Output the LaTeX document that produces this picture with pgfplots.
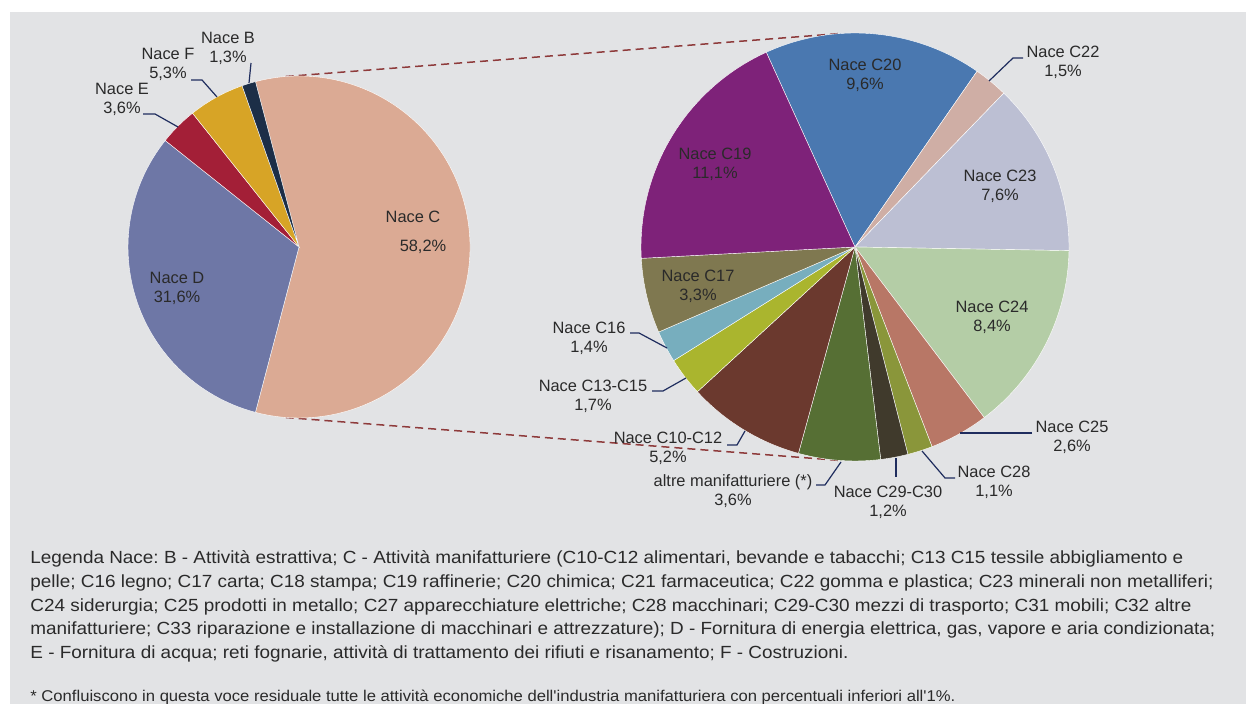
\documentclass[border=0pt]{standalone}
\usepackage{graphicx}
\usepackage{pgfplots}
\pgfplotsset{compat=1.18}
\usepackage{pgfplotstable}
\usepackage{fontspec}
\setmainfont{Liberation Sans}
\frenchspacing

\definecolor{bg}{HTML}{E2E3E5}
\definecolor{txt}{HTML}{2A2A2A}
\definecolor{lead}{HTML}{1F2D5E}
\definecolor{conn}{HTML}{8E3B3B}
% main pie
\definecolor{cC}{HTML}{DBAA94}
\definecolor{cD}{HTML}{6E77A6}
\definecolor{cE}{HTML}{A31F37}
\definecolor{cF}{HTML}{D7A426}
\definecolor{cB}{HTML}{1C2E47}
% secondary pie
\definecolor{c20}{HTML}{4A78B0}
\definecolor{c22}{HTML}{CFAEA5}
\definecolor{c23}{HTML}{BCBFD3}
\definecolor{c24}{HTML}{B4CDA6}
\definecolor{c25}{HTML}{B87766}
\definecolor{c28}{HTML}{8A963A}
\definecolor{c2930}{HTML}{403A2C}
\definecolor{caltre}{HTML}{566F34}
\definecolor{c1012}{HTML}{6B392E}
\definecolor{c1315}{HTML}{AAB52E}
\definecolor{c16}{HTML}{77AEBE}
\definecolor{c17}{HTML}{7F7850}
\definecolor{c19}{HTML}{7E2279}

% shares (%), clockwise from the start angle
\pgfplotstableread{
name value color
C 58.2 cC
D 31.6 cD
E 3.6 cE
F 5.3 cF
B 1.3 cB
}\leftpie
\pgfplotstableread{
name value color
C20 9.6 c20
C22 1.5 c22
C23 7.6 c23
C24 8.4 c24
C25 2.6 c25
C28 1.1 c28
C29-C30 1.2 c2930
altre 3.6 caltre
C10-C12 5.2 c1012
C13-C15 1.7 c1315
C16 1.4 c16
C17 3.3 c17
C19 11.1 c19
}\rightpie

% #1 table, #2 cx, #3 cy (axis units), #4 radius (pt), #5 start angle, #6 output macro
\newcommand\buildpie[6]{%
  \pgfplotstablegetrowsof{#1}%
  \pgfmathtruncatemacro\pielast{\pgfplotsretval-1}%
  \gdef\pietotal{0}%
  \foreach \i in {0,...,\pielast}{%
    \pgfplotstablegetelem{\i}{value}\of{#1}%
    \pgfmathsetmacro\tmp{\pietotal+\pgfplotsretval}%
    \xdef\pietotal{\tmp}%
  }%
  \xdef\pieangle{#5}%
  \gdef#6{}%
  \foreach \i in {0,...,\pielast}{%
    \pgfplotstablegetelem{\i}{value}\of{#1}\let\pieval\pgfplotsretval
    \pgfplotstablegetelem{\i}{color}\of{#1}\let\piecol\pgfplotsretval
    \pgfmathsetmacro\pieend{\pieangle-\pieval/\pietotal*360}%
    \xdef#6{\unexpanded\expandafter{#6}\noexpand\fill[fill=\piecol,draw=white,line width=0.2pt] (axis cs:#2,#3) -- ([shift={(\pieangle:#4pt)}]axis cs:#2,#3) arc[start angle=\pieangle,end angle=\pieend,radius=#4pt] -- cycle;}%
    \xdef\pieangle{\pieend}%
  }%
}
\buildpie{\leftpie}{299}{247}{85.5}{104.76}{\leftcmds}
\buildpie{\rightpie}{855}{247}{107}{114.5}{\rightcmds}

\tikzset{
  lbl/.style={align=center,inner sep=0pt,text=txt,font=\fontsize{8.2}{9.5}\selectfont},
  leader/.style={draw=lead,line width=0.6pt},
  legline/.style={anchor=base west,inner sep=0pt,text=txt,font=\fontsize{8.8}{10}\selectfont},
}

\begin{document}
\begin{tikzpicture}
\begin{axis}[
  x=0.5pt, y=0.5pt, y dir=reverse,
  xmin=0, xmax=1246, ymin=0, ymax=704,
  hide axis, clip=false,
]
% background
\fill[white] (axis cs:0,0) rectangle (axis cs:1246,704);
\fill[bg] (axis cs:10,12) rectangle (axis cs:1246,704);

% connectors
\draw[conn,line width=0.75pt,dash pattern=on 4pt off 2.5pt]
  ([shift={(94.5:85.5pt)}]axis cs:299,247) -- ([shift={(94.5:107pt)}]axis cs:855,247);
\draw[conn,line width=0.75pt,dash pattern=on 4pt off 2.5pt]
  ([shift={(-94.5:85.5pt)}]axis cs:299,247) -- ([shift={(-94.5:107pt)}]axis cs:855,247);

% pies
\leftcmds
\rightcmds

% labels main pie
\node[lbl] at (axis cs:413,217) {Nace C};
\node[lbl] at (axis cs:423,247) {58,2\%};
\node[lbl] at (axis cs:177,288.5) {Nace D\\31,6\%};
\node[lbl] at (axis cs:122,99.5) {Nace E\\3,6\%};
\node[lbl] at (axis cs:168,64.5) {Nace F\\5,3\%};
\node[lbl] at (axis cs:228,48) {Nace B\\1,3\%};
\draw[leader] (axis cs:143,114) -- (axis cs:155,114) -- (axis cs:178,127);
\draw[leader] (axis cs:191,80) -- (axis cs:202,80) -- (axis cs:217,97);
\draw[leader] (axis cs:251,63) -- (axis cs:249,83);

% labels secondary pie
\node[lbl] at (axis cs:865,75) {Nace C20\\9,6\%};
\node[lbl] at (axis cs:1063,62) {Nace C22\\1,5\%};
\node[lbl] at (axis cs:1000,186.5) {Nace C23\\7,6\%};
\node[lbl] at (axis cs:992,317.5) {Nace C24\\8,4\%};
\node[lbl] at (axis cs:715,164) {Nace C19\\11,1\%};
\node[lbl] at (axis cs:698,286) {Nace C17\\3,3\%};
\node[lbl] at (axis cs:589,338) {Nace C16\\1,4\%};
\node[lbl] at (axis cs:593,396) {Nace C13-C15\\1,7\%};
\node[lbl] at (axis cs:668,448.5) {Nace C10-C12\\5,2\%};
\node[lbl] at (axis cs:733,491) {altre manifatturiere (*)\\3,6\%};
\node[lbl] at (axis cs:888,502) {Nace C29-C30\\1,2\%};
\node[lbl] at (axis cs:994,482.5) {Nace C28\\1,1\%};
\node[lbl] at (axis cs:1072,437.5) {Nace C25\\2,6\%};
\draw[leader] (axis cs:1023,58) -- (axis cs:1013,58) -- (axis cs:989,81);
\draw[leader] (axis cs:630,333) -- (axis cs:639,333) -- (axis cs:667,348);
\draw[leader] (axis cs:652,391) -- (axis cs:663,391) -- (axis cs:686,378);
\draw[leader] (axis cs:727,445) -- (axis cs:737,445) -- (axis cs:745,431);
\draw[leader] (axis cs:816,485) -- (axis cs:825,485) -- (axis cs:841,462);
\draw[leader] (axis cs:1032,433) -- (axis cs:960,433);
\draw[leader] (axis cs:955,478) -- (axis cs:945,478) -- (axis cs:922,451);
\draw[leader] (axis cs:896,477) -- (axis cs:896,458);

% legend text
\node[legline] at (axis cs:30,564) {\resizebox{576.5pt}{\height}{Legenda Nace: B - Attività estrattiva; C - Attività manifatturiere (C10-C12 alimentari, bevande e tabacchi; C13 C15 tessile abbigliamento e}};
\node[legline] at (axis cs:30,587.5) {\resizebox{591.5pt}{\height}{pelle; C16 legno; C17 carta; C18 stampa; C19 raffinerie; C20 chimica; C21 farmaceutica; C22 gomma e plastica; C23 minerali non metalliferi;}};
\node[legline] at (axis cs:30,611) {\resizebox{580.5pt}{\height}{C24 siderurgia; C25 prodotti in metallo; C27 apparecchiature elettriche; C28 macchinari; C29-C30 mezzi di trasporto; C31 mobili; C32 altre}};
\node[legline] at (axis cs:30,634.5) {\resizebox{592.5pt}{\height}{manifatturiere; C33 riparazione e installazione di macchinari e attrezzature); D - Fornitura di energia elettrica, gas, vapore e aria condizionata;}};
\node[legline] at (axis cs:30,658) {\resizebox{409pt}{\height}{E - Fornitura di acqua; reti fognarie, attività di trattamento dei rifiuti e risanamento; F - Costruzioni.}};
\node[legline,font=\fontsize{7.8}{9}\selectfont] at (axis cs:30,701.5) {\resizebox{462.5pt}{\height}{* Confluiscono in questa voce residuale tutte le attività economiche dell\textquotesingle industria manifatturiera con percentuali inferiori all\textquotesingle 1\%.}};
\end{axis}
\pgfresetboundingbox
\path (current axis.south west) rectangle (current axis.north east);
\end{tikzpicture}
\end{document}
